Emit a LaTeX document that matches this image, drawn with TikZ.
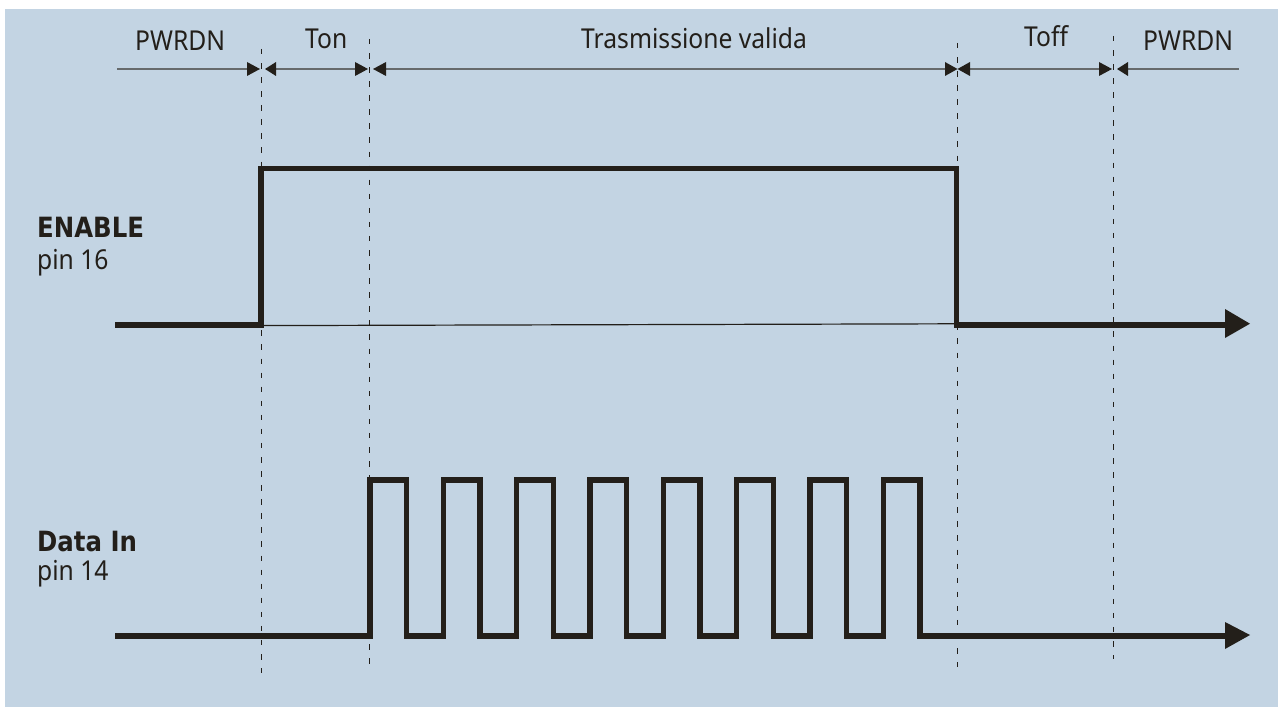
\documentclass[tikz,border=0pt]{standalone}
\usepackage{fontspec}
\setmainfont[FakeStretch=0.9]{Noto Sans}
\newfontfamily\boldlab[FakeStretch=0.875]{DejaVu Sans}
\usetikzlibrary{arrows.meta}
\definecolor{panel}{HTML}{C3D4E3}
\definecolor{ink}{HTML}{231F1A}
\definecolor{dimgrey}{HTML}{666A6C}
\newcommand{\lab}{\fontsize{27.5}{30}\selectfont}
\newcommand{\blab}{\boldlab\bfseries\fontsize{28}{30}\selectfont}
\tikzset{
  x=1bp,y=-1bp,
  txt/.style={inner sep=0pt,text=ink,anchor=base west,font=\lab},
  boldtxt/.style={inner sep=0pt,text=ink,anchor=base west,font=\blab},
  guide/.style={draw=ink,line width=1bp,dash pattern=on 5.5bp off 8.57bp},
  dimline/.style={draw=dimgrey,line width=1.4bp},
  dimtip/.style={fill=ink,draw=none},
  signal/.style={draw=ink,line width=5.6bp,miter limit=10},
  data signal/.style={draw=ink,line width=5.2bp,miter limit=10},
  thin signal/.style={draw=ink,line width=1.2bp},
  bighead/.style={fill=ink,draw=none},
}
\begin{document}
\begin{tikzpicture}
\useasboundingbox (0,0) rectangle (1278,707);
\fill[white] (0,0) rectangle (1278,707);
\fill[panel] (5,9) rectangle (1278,707);
% guides
\coordinate (g1a) at (261,49); \coordinate (g1b) at (261,673);
\coordinate (g2a) at (369,39); \coordinate (g2b) at (369,665);
\coordinate (g3a) at (957,43); \coordinate (g3b) at (957,667);
\coordinate (g4a) at (1113,36); \coordinate (g4b) at (1113,659);
\draw[guide] (g1a) -- (g1b);
\draw[guide] (g2a) -- (g2b);
\draw[guide] (g3a) -- (g3b);
\draw[guide] (g4a) -- (g4b);
% dimension lines
\coordinate (d0) at (117,69); \coordinate (d1) at (248,69);
\coordinate (d2) at (275,69); \coordinate (d3) at (356,69);
\coordinate (d4) at (385,69); \coordinate (d5) at (946,69);
\coordinate (d6) at (969,69); \coordinate (d7) at (1100,69);
\coordinate (d8) at (1127,69); \coordinate (d9) at (1239,69);
\draw[dimline] (d0) -- (d1);
\draw[dimline] (d2) -- (d3);
\draw[dimline] (d4) -- (d5);
\draw[dimline] (d6) -- (d7);
\draw[dimline] (d8) -- (d9);
% right-pointing tips
\fill[dimtip] (247,62) -- (260,69) -- (247,76) -- cycle;
\fill[dimtip] (355,62) -- (368,69) -- (355,76) -- cycle;
\fill[dimtip] (945,62) -- (957.5,69) -- (945,76) -- cycle;
\fill[dimtip] (1099,62) -- (1112,69) -- (1099,76) -- cycle;
% left-pointing tips
\fill[dimtip] (276,62) -- (265,69) -- (276,76) -- cycle;
\fill[dimtip] (386,62) -- (373,69) -- (386,76) -- cycle;
\fill[dimtip] (970,62) -- (957.5,69) -- (970,76) -- cycle;
\fill[dimtip] (1128,62) -- (1117,69) -- (1128,76) -- cycle;
% labels
\node[txt] (pwrdnA) at (135,51) {PWRDN};
\node[txt] (ton) at (305,49) {Ton};
\node[txt] (tx) at (581,49) {Trasmissione valida};
\node[txt] (toff) at (1024,47) {Toff};
\node[txt] (pwrdnB) at (1143,51) {PWRDN};
\node[boldtxt] (enable) at (37,238) {ENABLE};
\node[txt] (pin16) at (37,269) {pin 16};
\node[boldtxt] (datain) at (37,551) {Data In};
\node[txt] (pin14) at (37,580) {pin 14};
% ENABLE signal
\coordinate (e0) at (115,325); \coordinate (e1) at (261,325);
\coordinate (e2) at (261,168.5); \coordinate (e3) at (956.5,168.5);
\coordinate (e4) at (956.5,325); \coordinate (e5) at (1226,325);
\coordinate (t0) at (261,325.6); \coordinate (t1) at (956.5,323.8);
\draw[thin signal] (t0) -- (t1);
\draw[signal] (e0) -- (e1) -- (e2) -- (e3) -- (e4) -- (e5);
\fill[bighead] (1225,309) -- (1250,323.7) -- (1225,338) -- cycle;
% Data In signal
\coordinate (s0) at (115,636); \coordinate (s1) at (1226,636);
\draw[data signal] (s0)
  -- (370,636) -- (370,480) -- (406.7,480) -- (406.7,636)
  -- (443.3,636) -- (443.3,480) -- (480,480) -- (480,636)
  -- (516.7,636) -- (516.7,480) -- (553.3,480) -- (553.3,636)
  -- (590,636) -- (590,480) -- (626.7,480) -- (626.7,636)
  -- (663.3,636) -- (663.3,480) -- (700,480) -- (700,636)
  -- (736.7,636) -- (736.7,480) -- (773.3,480) -- (773.3,636)
  -- (810,636) -- (810,480) -- (846.7,480) -- (846.7,636)
  -- (883.3,636) -- (883.3,480) -- (920,480) -- (920,636)
  -- (s1);
\fill[bighead] (1225,622) -- (1250,635) -- (1225,649) -- cycle;
\end{tikzpicture}
\end{document}
